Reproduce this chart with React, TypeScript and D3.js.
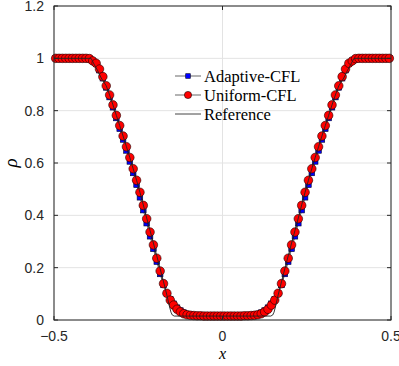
import React from 'react';
import * as d3 from 'd3';

// cell centres of the 100-cell mesh
const xCells = [
  -0.495, -0.485, -0.475, -0.465, -0.455, -0.445, -0.435, -0.425, -0.415, -0.405,
  -0.395, -0.385, -0.375, -0.365, -0.355, -0.345, -0.335, -0.325, -0.315, -0.305,
  -0.295, -0.285, -0.275, -0.265, -0.255, -0.245, -0.235, -0.225, -0.215, -0.205,
  -0.195, -0.185, -0.175, -0.165, -0.155, -0.145, -0.135, -0.125, -0.115, -0.105,
  -0.095, -0.085, -0.075, -0.065, -0.055, -0.045, -0.035, -0.025, -0.015, -0.005,
  0.005, 0.015, 0.025, 0.035, 0.045, 0.055, 0.065, 0.075, 0.085, 0.095,
  0.105, 0.115, 0.125, 0.135, 0.145, 0.155, 0.165, 0.175, 0.185, 0.195,
  0.205, 0.215, 0.225, 0.235, 0.245, 0.255, 0.265, 0.275, 0.285, 0.295,
  0.305, 0.315, 0.325, 0.335, 0.345, 0.355, 0.365, 0.375, 0.385, 0.395,
  0.405, 0.415, 0.425, 0.435, 0.445, 0.455, 0.465, 0.475, 0.485, 0.495,
];

const adaptiveRho = [
  1, 1, 1, 1, 1, 1, 1, 1, 1, 1,
  0.999, 0.991, 0.979, 0.955, 0.924, 0.889, 0.852, 0.813, 0.772, 0.731,
  0.69, 0.648, 0.606, 0.562, 0.517, 0.469, 0.42, 0.37, 0.32, 0.272,
  0.223, 0.176, 0.134, 0.101, 0.079, 0.062, 0.047, 0.036, 0.028, 0.023,
  0.02, 0.018, 0.017, 0.017, 0.016, 0.016, 0.016, 0.016, 0.016, 0.016,
  0.016, 0.016, 0.016, 0.016, 0.016, 0.016, 0.017, 0.017, 0.018, 0.02,
  0.023, 0.028, 0.036, 0.047, 0.062, 0.079, 0.101, 0.134, 0.176, 0.223,
  0.272, 0.32, 0.37, 0.42, 0.469, 0.517, 0.562, 0.606, 0.648, 0.69,
  0.731, 0.772, 0.813, 0.852, 0.889, 0.924, 0.955, 0.979, 0.991, 0.999,
  1, 1, 1, 1, 1, 1, 1, 1, 1, 1,
];

const uniformRho = [
  1, 1, 1, 1, 1, 1, 1, 1, 1, 1,
  0.999, 0.99, 0.981, 0.959, 0.93, 0.895, 0.86, 0.822, 0.782, 0.743,
  0.703, 0.662, 0.621, 0.578, 0.534, 0.488, 0.438, 0.387, 0.336, 0.287,
  0.236, 0.187, 0.139, 0.102, 0.076, 0.057, 0.041, 0.031, 0.024, 0.02,
  0.018, 0.017, 0.016, 0.016, 0.015, 0.015, 0.015, 0.015, 0.015, 0.015,
  0.015, 0.015, 0.015, 0.015, 0.015, 0.015, 0.016, 0.016, 0.017, 0.018,
  0.02, 0.024, 0.031, 0.041, 0.057, 0.076, 0.102, 0.139, 0.187, 0.236,
  0.287, 0.336, 0.387, 0.438, 0.488, 0.534, 0.578, 0.621, 0.662, 0.703,
  0.743, 0.782, 0.822, 0.86, 0.895, 0.93, 0.959, 0.981, 0.99, 0.999,
  1, 1, 1, 1, 1, 1, 1, 1, 1, 1,
];

const refX = [
  -0.5, -0.39, -0.38, -0.37, -0.36, -0.345, -0.335, -0.325, -0.315, -0.305,
  -0.295, -0.285, -0.275, -0.265, -0.255, -0.245, -0.235, -0.225, -0.215, -0.205,
  -0.195, -0.185, -0.175, -0.165, -0.158, -0.153, -0.149, -0.143,
  0.143, 0.149, 0.153, 0.158, 0.165, 0.175, 0.185, 0.195,
  0.205, 0.215, 0.225, 0.235, 0.245, 0.255, 0.265, 0.275, 0.285, 0.295,
  0.305, 0.315, 0.325, 0.335, 0.345, 0.36, 0.37, 0.38, 0.39, 0.5,
];
const refRho = [
  1, 1, 0.975, 0.952, 0.925, 0.895, 0.86, 0.822, 0.782, 0.743,
  0.703, 0.662, 0.621, 0.578, 0.534, 0.488, 0.44, 0.39, 0.342, 0.294,
  0.245, 0.196, 0.146, 0.095, 0.055, 0.03, 0.019, 0.015,
  0.015, 0.019, 0.03, 0.055, 0.095, 0.146, 0.196, 0.245,
  0.294, 0.342, 0.39, 0.44, 0.488, 0.534, 0.578, 0.621, 0.662, 0.703,
  0.743, 0.782, 0.822, 0.86, 0.895, 0.925, 0.952, 0.975, 1, 1,
];

const xTicks = [-0.5, 0, 0.5];
const yTicks = [0, 0.2, 0.4, 0.6, 0.8, 1, 1.2];
const legendLabels = ['Adaptive-CFL', 'Uniform-CFL', 'Reference'];

const W = 399;
const H = 366;
const plot = { left: 54, right: 391, top: 6, bottom: 320 };
const axisColor = '#262626';
const tickFont = '"Liberation Sans", Arial, sans-serif';
const serifFont = '"Liberation Serif", "DejaVu Serif", serif';

const App = () => {
  const x = d3.scaleLinear().domain([-0.5, 0.5]).range([plot.left, plot.right]);
  const y = d3.scaleLinear().domain([0, 1.2]).range([plot.bottom, plot.top]);

  const line = d3
    .line<[number, number]>()
    .x((d) => x(d[0]))
    .y((d) => y(d[1]));

  const adaptive = xCells.map((v, i) => [v, adaptiveRho[i]] as [number, number]);
  const uniform = xCells.map((v, i) => [v, uniformRho[i]] as [number, number]);
  const reference = refX.map((v, i) => [v, refRho[i]] as [number, number]);

  const sq = 5.6; // square marker side
  const r = 4.3; // circle marker radius

  // legend layout
  const lgX0 = 175;
  const lgX1 = 201;
  const lgY = [76, 95, 114];
  const lgMid = (lgX0 + lgX1) / 2;

  return (
    <svg
      width={W}
      height={H}
      style={{ position: 'absolute', left: 0, top: 0, background: '#fff' }}
    >
      <rect x={0} y={0} width={W} height={H} fill="#fff" />

      {/* grid */}
      <g stroke="#e3e3e3" strokeWidth={1}>
        {yTicks.map((t) => (
          <line key={'gy' + t} x1={plot.left} x2={plot.right} y1={y(t)} y2={y(t)} />
        ))}
        {xTicks.map((t) => (
          <line key={'gx' + t} x1={x(t)} x2={x(t)} y1={plot.top} y2={plot.bottom} />
        ))}
      </g>

      {/* Adaptive-CFL */}
      <path d={line(adaptive) ?? ''} fill="none" stroke="#000" strokeWidth={0.6} />
      {adaptive.map((d, i) => (
        <rect
          key={'a' + i}
          x={x(d[0]) - sq / 2}
          y={y(d[1]) - sq / 2}
          width={sq}
          height={sq}
          fill="#0000ff"
          stroke="#00002a"
          strokeWidth={0.6}
        />
      ))}

      {/* Uniform-CFL */}
      <path d={line(uniform) ?? ''} fill="none" stroke="#000" strokeWidth={0.6} />
      {uniform.map((d, i) => (
        <circle
          key={'u' + i}
          cx={x(d[0])}
          cy={y(d[1])}
          r={r}
          fill="#ff0000"
          stroke="#1a0000"
          strokeWidth={0.6}
        />
      ))}

      {/* Reference */}
      <path d={line(reference) ?? ''} fill="none" stroke="#222" strokeWidth={0.9} />

      {/* axes box */}
      <rect
        x={plot.left}
        y={plot.top}
        width={plot.right - plot.left}
        height={plot.bottom - plot.top}
        fill="none"
        stroke={axisColor}
        strokeWidth={1}
      />

      {/* ticks (inward) */}
      <g stroke={axisColor} strokeWidth={1}>
        {yTicks.map((t) => (
          <g key={'ty' + t}>
            <line x1={plot.left} x2={plot.left + 4} y1={y(t)} y2={y(t)} />
            <line x1={plot.right} x2={plot.right - 4} y1={y(t)} y2={y(t)} />
          </g>
        ))}
        {xTicks.map((t) => (
          <g key={'tx' + t}>
            <line x1={x(t)} x2={x(t)} y1={plot.bottom} y2={plot.bottom - 4} />
            <line x1={x(t)} x2={x(t)} y1={plot.top} y2={plot.top + 4} />
          </g>
        ))}
      </g>

      {/* tick labels */}
      <g fontFamily={tickFont} fontSize={14} fill={axisColor}>
        {yTicks.map((t) => (
          <text key={'ly' + t} x={plot.left - 10} y={y(t)} dy="0.36em" textAnchor="end">
            {d3.format('~g')(t)}
          </text>
        ))}
        {xTicks.map((t) => (
          <text key={'lx' + t} x={x(t)} y={plot.bottom + 21} textAnchor="middle">
            {d3.format('~g')(t)}
          </text>
        ))}
      </g>

      {/* axis labels */}
      <text
        x={x(0)}
        y={359}
        textAnchor="middle"
        fontFamily={serifFont}
        fontStyle="italic"
        fontSize={16}
        fill="#000"
      >
        x
      </text>
      <text
        transform={`translate(17, ${(plot.top + plot.bottom) / 2}) rotate(-90)`}
        textAnchor="middle"
        fontFamily={serifFont}
        fontStyle="italic"
        fontSize={19}
        fill="#000"
      >
        ρ
      </text>

      {/* legend */}
      <g>
        {legendLabels.map((lab, i) => (
          <g key={lab}>
            <line
              x1={lgX0}
              x2={lgX1}
              y1={lgY[i]}
              y2={lgY[i]}
              stroke={i === 2 ? '#444' : '#000'}
              strokeWidth={i === 2 ? 1 : 0.6}
            />
            {i === 0 && (
              <rect
                x={lgMid - 2.3}
                y={lgY[i] - 2.3}
                width={4.6}
                height={4.6}
                fill="#0000ff"
                stroke="#00002a"
                strokeWidth={0.6}
              />
            )}
            {i === 1 && (
              <circle
                cx={lgMid}
                cy={lgY[i]}
                r={3.6}
                fill="#ff0000"
                stroke="#1a0000"
                strokeWidth={0.6}
              />
            )}
            <text
              x={lgX1 + 3}
              y={lgY[i]}
              dy="0.34em"
              fontFamily={serifFont}
              fontSize={16.5}
              fill="#000"
            >
              {lab}
            </text>
          </g>
        ))}
      </g>
    </svg>
  );
};

export default App;
